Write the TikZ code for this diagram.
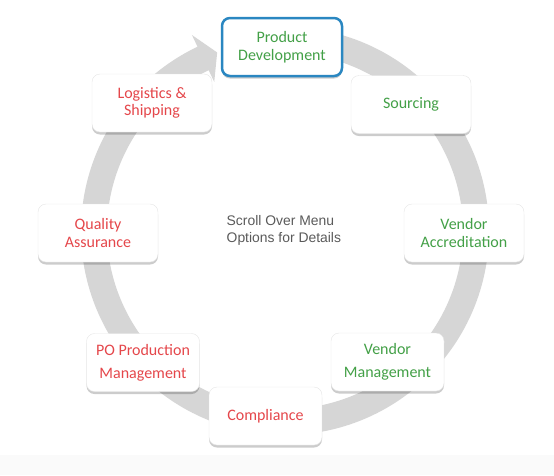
\documentclass[tikz,border=0pt]{standalone}
\usepackage{fontspec}
\setmainfont{Carlito}
\newfontfamily\helv{Liberation Sans}
\usetikzlibrary{shadows}
\definecolor{ringgray}{HTML}{D6D6D6}
\definecolor{stepgreen}{HTML}{43A047}
\definecolor{stepred}{HTML}{E5474B}
\definecolor{pdblue}{HTML}{2A87C1}
\definecolor{hintgray}{HTML}{5A5A5A}
\begin{document}
\begin{tikzpicture}[x=1pt, y=-1pt,
  stepbox/.style={draw=black!10, fill=white, rounded corners=8pt,
    minimum width=120pt, minimum height=58pt, align=center,
    font=\fontsize{16}{17.5}\selectfont,
    drop shadow={shadow xshift=0pt, shadow yshift=-2.5pt, opacity=0.2, fill=black}},
  lowbox/.style={stepbox, minimum width=113pt, font=\fontsize{16}{23}\selectfont},
  ok/.style={text=stepgreen},
  todo/.style={text=stepred}]
  \useasboundingbox (0,0) rectangle (554,475);
  % faint strip at the bottom
  \fill[black!2] (0,455) rectangle (554,475);

  % grey ring with arrow head at the top
  \begin{scope}[shift={(285,231)}, y=1pt]
    \fill[ringgray] (90:204) arc[start angle=90, end angle=-244.6, radius=204]
      -- (-244.6:217) -- (-249.2:191) -- (-244.6:165) -- (-244.6:178)
      arc[start angle=-244.6, end angle=90, radius=178] -- cycle;
  \end{scope}

  % steps, clockwise from the top
  \node[stepbox, ok, draw=pdblue, line width=2.5pt] (pd) at (282,47) {Product\\Development};
  \node[stepbox, ok] (src) at (411,104.5) {Sourcing};
  \node[stepbox, ok] (va) at (464,233) {Vendor\\Accreditation};
  \node[lowbox, ok] (vm) at (387.5,362) {Vendor\\Management};
  \node[lowbox, todo] (comp) at (265.5,416) {Compliance};
  \node[lowbox, todo] (po) at (143,362.5) {PO Production\\Management};
  \node[stepbox, todo] (qa) at (98,233) {Quality\\Assurance};
  \node[stepbox, todo] (log) at (152,103) {Logistics \&\\Shipping};

  % hint in the middle
  \node[anchor=west, align=left, text=hintgray, inner sep=0pt,
    font=\helv\fontsize{13.9}{17.3}\selectfont] (hint) at (226.5,230.5)
    {Scroll Over Menu\\Options for Details};
\end{tikzpicture}
\end{document}
